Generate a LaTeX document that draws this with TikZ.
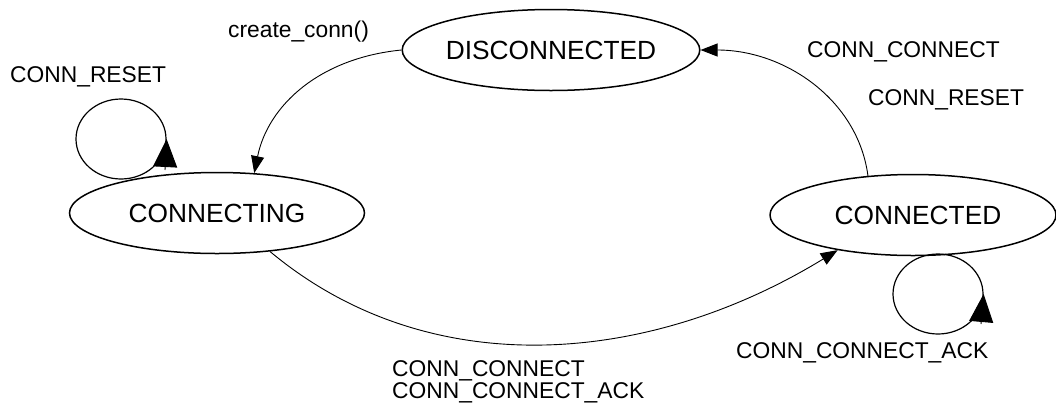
\documentclass[tikz,border=0pt]{standalone}
\usepackage{fontspec}
\setmainfont{Liberation Sans}
\usetikzlibrary{arrows.meta,shapes.geometric}

\begin{document}
\begin{tikzpicture}[x=1pt,y=-1pt,
    state/.style={ellipse,draw,line width=1.5pt,inner sep=0pt,minimum height=81pt,font=\fontsize{26.3}{30}\selectfont},
    loopring/.style={ellipse,draw,line width=1.2pt,inner sep=0pt,minimum width=90pt,minimum height=80pt},
    lbl/.style={inner sep=0pt,font=\fontsize{22.8}{22}\selectfont},
    trans/.style={line width=0.9pt,-{Triangle[length=17pt,width=13pt]}},
    bigtip/.style={line width=0.9pt,-{Triangle[length=28pt,width=24pt]}}]
          \useasboundingbox (0,0) rectangle (1056,405);
          \node[state,minimum width=293pt] (disconnected) at (551,50) {DISCONNECTED};
          \node[state,minimum width=295pt] (connecting) at (217,213) {CONNECTING\hspace{44pt}};
          \node[state,minimum width=286pt] (connected) at (913,215) {\hspace{10pt}CONNECTED};
          \node[loopring] (resetloop) at (121,139) {};
          \node[loopring] (ackloop) at (938,294) {};
          \coordinate (resetbase) at (165,170);
          \coordinate (ackbase) at (981,324);
              \draw[trans] (disconnected.west) .. controls (320,58) and (268,105) .. (connecting.47);
              \draw[trans] (connecting.-36.5) .. controls (430,385) and (650,365) .. (connected.205);
              \draw[trans] (connected.139.6) .. controls (858,100) and (785,50) .. (disconnected.east);
              \draw[bigtip] (resetbase) -- (resetloop.east);
              \draw[bigtip] (ackbase) -- (ackloop.east);
          \node[lbl,anchor=base west] (lcreate) at (228,37) {create\_conn()};
          \node[lbl,anchor=base west] (lreset) at (10,82) {CONN\_RESET};
          \node[lbl,anchor=base west] (lconnect) at (807,57) {CONN\_CONNECT};
          \node[lbl,anchor=base west] (lreset2) at (868,105) {CONN\_RESET};
          \node[lbl,anchor=base west] (lack) at (736,358) {CONN\_CONNECT\_ACK};
          \node[lbl,anchor=north west,align=left] (lboth) at (392,360) {CONN\_CONNECT\\CONN\_CONNECT\_ACK};
        \end{tikzpicture}
\end{document}
